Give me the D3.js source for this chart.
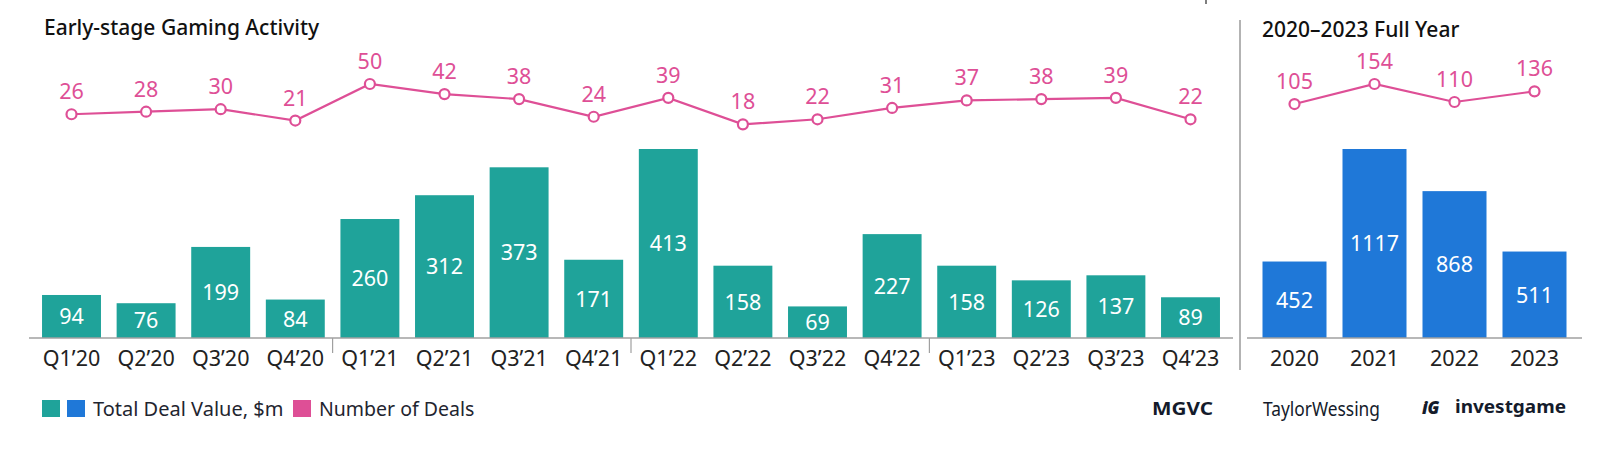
<!DOCTYPE html>
<html>
<head>
<meta charset="utf-8">
<script src="https://cdn.jsdelivr.net/npm/d3@7"></script>
<style>
  html, body { margin: 0; padding: 0; background: #ffffff; }
  svg { display: block; }
  text { font-family: "Noto Sans", "Open Sans", sans-serif; }
</style>
</head>
<body>
<svg id="chart" width="1598" height="454"></svg>
<script>
// ---- data ----
const quarters = ["Q1\u201920","Q2\u201920","Q3\u201920","Q4\u201920","Q1\u201921","Q2\u201921","Q3\u201921","Q4\u201921",
                  "Q1\u201922","Q2\u201922","Q3\u201922","Q4\u201922","Q1\u201923","Q2\u201923","Q3\u201923","Q4\u201923"];
const quarterDealValue = [94, 76, 199, 84, 260, 312, 373, 171, 413, 158, 69, 227, 158, 126, 137, 89];
const quarterDealCount = [26, 28, 30, 21, 50, 42, 38, 24, 39, 18, 22, 31, 37, 38, 39, 22];
const years = ["2020", "2021", "2022", "2023"];
const yearDealValue = [452, 1117, 868, 511];
const yearDealCount = [105, 154, 110, 136];
const legendLabels = ["Total Deal Value, $m", "Number of Deals"];
const titles = ["Early-stage Gaming Activity", "2020\u20132023 Full Year"];
const logos = ["MGVC", "TaylorWessing", "investgame"];

// ---- styles ----
const TEAL = "#1fa39a", BLUE = "#1f78d8", PINK = "#de4f96", AXIS = "#a0a0a0", TEXT = "#222222";
const FONT = 21.5;
const svg = d3.select("#chart");

const baseline = 338;
const barTop = 149;
const lineBottom = 147, lineTop = 84;

function panel(opts) {
  const g = svg.append("g");
  const x = d3.scaleBand().domain(opts.cats).range(opts.xr).paddingInner(opts.pi).paddingOuter(opts.po);
  const y = d3.scaleLinear().domain([0, d3.max(opts.values)]).range([baseline, barTop]);
  const yl = d3.scaleLinear().domain([0, d3.max(opts.counts)]).range([lineBottom, lineTop]);

  // bars
  g.selectAll("rect.bar").data(opts.values).join("rect")
    .attr("class", "bar")
    .attr("x", (d, i) => x(opts.cats[i]))
    .attr("y", d => y(d))
    .attr("width", x.bandwidth())
    .attr("height", d => baseline - y(d))
    .attr("fill", opts.color);

  // bar labels
  g.selectAll("text.bl").data(opts.values).join("text")
    .attr("class", "bl")
    .attr("x", (d, i) => x(opts.cats[i]) + x.bandwidth() / 2)
    .attr("y", d => (y(d) + baseline) / 2)
    .attr("dy", "0.36em")
    .attr("text-anchor", "middle")
    .attr("fill", "#ffffff")
    .attr("font-size", FONT)
    .text(d => d);

  // axis
  const axis = d3.axisBottom(x).tickSize(0).tickPadding(13);
  const ag = g.append("g").attr("transform", `translate(0,${baseline})`).call(axis);
  ag.select(".domain").remove();
  ag.selectAll("text").attr("font-size", FONT).attr("fill", TEXT).attr("font-family", "\"Noto Sans\", sans-serif");
  g.append("line")
    .attr("x1", opts.axisX[0]).attr("x2", opts.axisX[1])
    .attr("y1", baseline).attr("y2", baseline)
    .attr("stroke", AXIS).attr("stroke-width", 1.5);

  // year separators
  if (opts.groupSize) {
    const step = x.step();
    opts.cats.forEach((c, i) => {
      if (i > 0 && i % opts.groupSize === 0) {
        const sx = x(c) - step * opts.pi / 2;
        g.append("line").attr("x1", sx).attr("x2", sx)
          .attr("y1", baseline).attr("y2", baseline + 15)
          .attr("stroke", AXIS).attr("stroke-width", 1.2);
      }
    });
  }

  // line
  const line = d3.line()
    .x((d, i) => x(opts.cats[i]) + x.bandwidth() / 2)
    .y(d => yl(d));
  g.append("path").datum(opts.counts)
    .attr("d", line).attr("fill", "none")
    .attr("stroke", PINK).attr("stroke-width", 2.2);
  g.selectAll("circle.pt").data(opts.counts).join("circle")
    .attr("class", "pt")
    .attr("cx", (d, i) => x(opts.cats[i]) + x.bandwidth() / 2)
    .attr("cy", d => yl(d))
    .attr("r", 5)
    .attr("fill", "#ffffff").attr("stroke", PINK).attr("stroke-width", 2.2);
  g.selectAll("text.pl").data(opts.counts).join("text")
    .attr("class", "pl")
    .attr("x", (d, i) => x(opts.cats[i]) + x.bandwidth() / 2)
    .attr("y", d => yl(d) - 15)
    .attr("text-anchor", "middle")
    .attr("fill", PINK)
    .attr("font-size", FONT)
    .text(d => d);

  // title
  g.append("text").attr("x", opts.titleX).attr("y", opts.titleY)
    .attr("font-size", 21).attr("font-weight", 500).attr("fill", "#111")
    .text(opts.title);
}

panel({
  cats: quarters, values: quarterDealValue, counts: quarterDealCount,
  xr: [34.2, 1227.8], pi: 0.21, po: 0.105, color: TEAL,
  axisX: [29, 1233], groupSize: 4, title: titles[0], titleX: 44, titleY: 35
});
panel({
  cats: years, values: yearDealValue, counts: yearDealCount,
  xr: [1254.5, 1574.5], pi: 0.2, po: 0.1, color: BLUE,
  axisX: [1247, 1582], groupSize: 0, title: titles[1], titleX: 1262, titleY: 37
});

// panel divider
svg.append("line").attr("x1", 1240).attr("x2", 1240).attr("y1", 20).attr("y2", 370)
  .attr("stroke", "#9a9a9a").attr("stroke-width", 1.5);
svg.append("line").attr("x1", 1206).attr("x2", 1206).attr("y1", 0).attr("y2", 4)
  .attr("stroke", "#555").attr("stroke-width", 1.5);

// legend
const lg = svg.append("g");
lg.append("rect").attr("x", 42).attr("y", 400).attr("width", 18).attr("height", 17).attr("fill", TEAL);
lg.append("rect").attr("x", 67).attr("y", 400).attr("width", 18).attr("height", 17).attr("fill", BLUE);
lg.append("text").attr("x", 93).attr("y", 416).attr("font-size", 20).attr("fill", "#1f2530").text(legendLabels[0]);
lg.append("rect").attr("x", 293).attr("y", 400).attr("width", 18).attr("height", 17).attr("fill", PINK);
lg.append("text").attr("x", 319).attr("y", 416).attr("font-size", 19.5).attr("fill", "#1f2530").text(legendLabels[1]);

// logos (as text)
const LOGO = "#141b2b";
svg.append("text").attr("x", 1152).attr("y", 415).attr("font-family", "\"DejaVu Sans\", sans-serif")
  .attr("font-weight", 700).attr("font-size", 17).attr("fill", LOGO)
  .attr("textLength", 61).attr("lengthAdjust", "spacingAndGlyphs").text(logos[0]);
svg.append("text").attr("x", 1263).attr("y", 416).attr("font-family", "Inter, sans-serif")
  .attr("font-size", 19).attr("fill", LOGO)
  .attr("textLength", 117).attr("lengthAdjust", "spacingAndGlyphs").text(logos[1]);
svg.append("text").attr("x", 1422).attr("y", 414).attr("font-family", "Inter, sans-serif")
  .attr("font-weight", 900).attr("font-style", "italic").attr("font-size", 17).attr("fill", LOGO)
  .text("iG");
svg.append("text").attr("x", 1455).attr("y", 413).attr("font-family", "Inter, sans-serif")
  .attr("font-weight", 700).attr("font-size", 17).attr("fill", LOGO)
  .attr("textLength", 111).attr("lengthAdjust", "spacingAndGlyphs").text(logos[2]);
</script>
</body>
</html>
